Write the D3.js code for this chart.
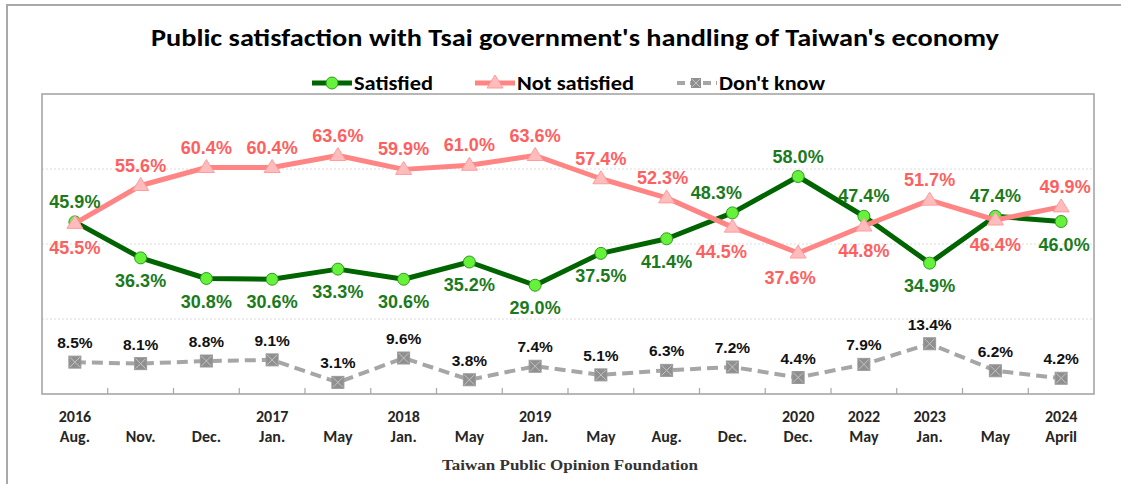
<!DOCTYPE html>
<html>
<head>
<meta charset="utf-8">
<script src="https://cdn.jsdelivr.net/npm/d3@7"></script>
<style>
  html, body { margin: 0; padding: 0; background: #fff; }
  svg { display: block; }
</style>
</head>
<body>
<svg id="chart" width="1121" height="484"></svg>
<script>
// Survey waves (two-line axis labels)
const yearLabels  = ["2016", "", "", "2017", "", "2018", "", "2019", "", "", "", "2020", "2022", "2023", "", "2024"];
const monthLabels = ["Aug.", "Nov.", "Dec.", "Jan.", "May", "Jan.", "May", "Jan.", "May", "Aug.", "Dec.", "Dec.", "May", "Jan.", "May", "April"];

// Percentages per wave
const satisfied    = [45.9, 36.3, 30.8, 30.6, 33.3, 30.6, 35.2, 29.0, 37.5, 41.4, 48.3, 58.0, 47.4, 34.9, 47.4, 46.0];
const notSatisfied = [45.5, 55.6, 60.4, 60.4, 63.6, 59.9, 61.0, 63.6, 57.4, 52.3, 44.5, 37.6, 44.8, 51.7, 46.4, 49.9];
const dontKnow     = [8.5, 8.1, 8.8, 9.1, 3.1, 9.6, 3.8, 7.4, 5.1, 6.3, 7.2, 4.4, 7.9, 13.4, 6.2, 4.2];

const gridTicks = [20, 40, 60];

// Which side of the marker each value label sits on ("a" above, "b" below)
const satLabelSide = ["a","b","b","b","b","b","b","b","b","b","a","a","a","b","a","b"];
const notLabelSide = ["b","a","a","a","a","a","a","a","a","a","b","b","b","a","b","a"];
const satLabelDx   = [0,0,0,0,0,0,0,0,0,0,-16,0,0,0,0,3];
const notLabelDx   = [0,0,0,0,0,0,0,0,0,-4,-11,-8,0,0,0,4];

const svg = d3.select("#chart");
const W = 1121, H = 484;
const plot = { left: 42, right: 1094, top: 94, bottom: 394 };

const idx = d3.range(satisfied.length);
const x = d3.scaleBand().domain(idx).range([plot.left, plot.right]);
const y = d3.scaleLinear().domain([0, 80]).range([plot.bottom, plot.top]);
const cx = i => x(i) + x.bandwidth() / 2;

// Outer frame
svg.append("rect")
  .attr("x", 7).attr("y", 5).attr("width", W + 10).attr("height", H + 10)
  .attr("fill", "none").attr("stroke", "#a9a9a9").attr("stroke-width", 2);

// Title
svg.append("text")
  .attr("x", 575).attr("y", 46)
  .attr("text-anchor", "middle")
  .attr("font-family", "Carlito, Calibri, Lato, sans-serif")
  .attr("font-weight", "bold").attr("font-size", 25)
  .attr("fill", "#000")
  .attr("textLength", 848).attr("lengthAdjust", "spacingAndGlyphs")
  .text("Public satisfaction with Tsai government's handling of Taiwan's economy");

// Gridlines
svg.append("g").selectAll("line").data(gridTicks).join("line")
  .attr("x1", plot.left).attr("x2", plot.right)
  .attr("y1", d => y(d)).attr("y2", d => y(d))
  .attr("stroke", "#dcdcdc").attr("stroke-width", 1)
  .attr("stroke-dasharray", "2,2");

// Plot frame
svg.append("rect")
  .attr("x", plot.left).attr("y", plot.top)
  .attr("width", plot.right - plot.left).attr("height", plot.bottom - plot.top)
  .attr("fill", "none").attr("stroke", "#a6a6a6").attr("stroke-width", 1.6);

// Category ticks on the bottom axis (inside, at band edges)
const xAxis = d3.axisBottom(x).tickSize(0).tickFormat(() => "");
const axisG = svg.append("g").attr("transform", `translate(0,${plot.bottom})`).call(xAxis);
axisG.select(".domain").remove();
svg.append("g").selectAll("line").data(idx.slice(1)).join("line")
  .attr("x1", i => x(i)).attr("x2", i => x(i))
  .attr("y1", plot.bottom).attr("y2", plot.bottom - 6)
  .attr("stroke", "#a6a6a6").attr("stroke-width", 1.2);

// Axis labels
const labG = svg.append("g")
  .attr("font-family", "Carlito, Calibri, Lato, sans-serif")
  .attr("font-weight", "bold").attr("font-size", 16)
  .attr("fill", "#262626").attr("text-anchor", "middle");
labG.selectAll("text.yr").data(idx).join("text").attr("class", "yr")
  .attr("x", cx).attr("y", 422).text(i => yearLabels[i]);
labG.selectAll("text.mo").data(idx).join("text").attr("class", "mo")
  .attr("x", cx).attr("y", 442).text(i => monthLabels[i]);

const line = arr => d3.line().x((d, i) => cx(i)).y(d => y(d))(arr);

// Don't know: dashed grey with crossed squares
svg.append("path").attr("d", line(dontKnow))
  .attr("fill", "none").attr("stroke", "#a6a6a6").attr("stroke-width", 4)
  .attr("stroke-dasharray", "11,6");
const dkG = svg.append("g").selectAll("g").data(dontKnow).join("g")
  .attr("transform", (d, i) => `translate(${cx(i)},${y(d)})`);
dkG.append("rect").attr("x", -6).attr("y", -6).attr("width", 12).attr("height", 12)
  .attr("fill", "#8f8f8f").attr("stroke", "#9a9a9a").attr("stroke-width", 1);
dkG.append("path").attr("d", "M-5,-5L5,5M-5,5L5,-5")
  .attr("stroke", "#c4c4c4").attr("stroke-width", 1);

// Satisfied: dark green line with light green circles
svg.append("path").attr("d", line(satisfied))
  .attr("fill", "none").attr("stroke", "#006400").attr("stroke-width", 5)
  .attr("stroke-linejoin", "round");
svg.append("g").selectAll("circle").data(satisfied).join("circle")
  .attr("cx", (d, i) => cx(i)).attr("cy", d => y(d)).attr("r", 6)
  .attr("fill", "#66f23a").attr("stroke", "#2e9a1e").attr("stroke-width", 1);

// Not satisfied: salmon line with pale triangles
svg.append("path").attr("d", line(notSatisfied))
  .attr("fill", "none").attr("stroke", "#ff8585").attr("stroke-width", 5)
  .attr("stroke-linejoin", "round");
svg.append("g").selectAll("path").data(notSatisfied).join("path")
  .attr("transform", (d, i) => `translate(${cx(i)},${y(d)})`)
  .attr("d", "M0,-8L8,5L-8,5Z")
  .attr("fill", "#ffbcbc").attr("stroke", "#ff9c9c").attr("stroke-width", 1);

// Value labels
const fmt = d => d.toFixed(1) + "%";
svg.append("g").selectAll("text").data(satisfied).join("text")
  .attr("x", (d, i) => cx(i) + satLabelDx[i])
  .attr("y", (d, i) => y(d) + (satLabelSide[i] === "a" ? -14 : 29))
  .attr("text-anchor", "middle")
  .attr("font-family", "Liberation Sans, Arial, sans-serif")
  .attr("font-weight", "bold").attr("font-size", 18)
  .attr("fill", "#1b7a1b").text(fmt);

svg.append("g").selectAll("text").data(notSatisfied).join("text")
  .attr("x", (d, i) => cx(i) + notLabelDx[i])
  .attr("y", (d, i) => y(d) + (notLabelSide[i] === "a" ? -14 : 31))
  .attr("text-anchor", "middle")
  .attr("font-family", "Liberation Sans, Arial, sans-serif")
  .attr("font-weight", "bold").attr("font-size", 18)
  .attr("fill", "#ff5f5f").text(fmt);

svg.append("g").selectAll("text").data(dontKnow).join("text")
  .attr("x", (d, i) => cx(i))
  .attr("y", d => y(d) - 14)
  .attr("text-anchor", "middle")
  .attr("font-family", "Liberation Sans, Arial, sans-serif")
  .attr("font-weight", "bold").attr("font-size", 15.5)
  .attr("fill", "#111").text(fmt);

// Legend
const legendItems = [
  { name: "Satisfied",     x0: 312, x1: 352, tx: 354, tw: 79 },
  { name: "Not satisfied", x0: 475, x1: 515, tx: 517, tw: 117 },
  { name: "Don't know",    x0: 677, x1: 717, tx: 719, tw: 106 }
];
const ly = 83;
const lg = svg.append("g");
// satisfied swatch
lg.append("line").attr("x1", legendItems[0].x0).attr("x2", legendItems[0].x1)
  .attr("y1", ly).attr("y2", ly).attr("stroke", "#006400").attr("stroke-width", 5);
lg.append("circle").attr("cx", 332).attr("cy", ly).attr("r", 6)
  .attr("fill", "#66f23a").attr("stroke", "#2e9a1e").attr("stroke-width", 1);
// not satisfied swatch
lg.append("line").attr("x1", legendItems[1].x0).attr("x2", legendItems[1].x1)
  .attr("y1", ly).attr("y2", ly).attr("stroke", "#ff8585").attr("stroke-width", 5);
lg.append("path").attr("transform", `translate(495,${ly})`).attr("d", "M0,-8L8,5L-8,5Z")
  .attr("fill", "#ffbcbc").attr("stroke", "#ff9c9c").attr("stroke-width", 1);
// don't know swatch
lg.append("line").attr("x1", legendItems[2].x0).attr("x2", legendItems[2].x1)
  .attr("y1", ly).attr("y2", ly).attr("stroke", "#a6a6a6").attr("stroke-width", 4)
  .attr("stroke-dasharray", "8,5");
lg.append("rect").attr("x", 691).attr("y", ly - 5).attr("width", 10).attr("height", 10)
  .attr("fill", "#8f8f8f");
lg.append("path").attr("d", `M692,${ly-4}L700,${ly+4}M692,${ly+4}L700,${ly-4}`)
  .attr("stroke", "#c4c4c4").attr("stroke-width", 1);
lg.selectAll("text").data(legendItems).join("text")
  .attr("x", d => d.tx).attr("y", ly + 7)
  .attr("font-family", "Carlito, Calibri, Lato, sans-serif")
  .attr("font-weight", "bold").attr("font-size", 20)
  .attr("fill", "#000")
  .attr("textLength", d => d.tw).attr("lengthAdjust", "spacingAndGlyphs")
  .text(d => d.name);

// Source note
svg.append("text")
  .attr("x", 570).attr("y", 470)
  .attr("text-anchor", "middle")
  .attr("font-family", "Liberation Serif, Times New Roman, serif")
  .attr("font-weight", "bold").attr("font-size", 15)
  .attr("fill", "#333")
  .attr("textLength", 256).attr("lengthAdjust", "spacingAndGlyphs")
  .text("Taiwan Public Opinion Foundation");
</script>
</body>
</html>
